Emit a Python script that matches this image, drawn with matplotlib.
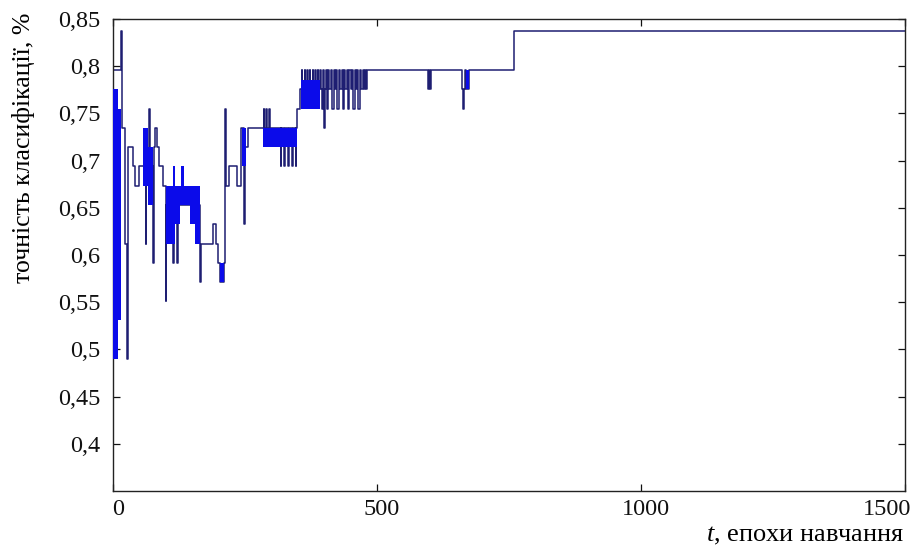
import matplotlib
matplotlib.use("Agg")
import matplotlib.pyplot as plt
from matplotlib.transforms import ScaledTranslation

plt.rcParams["font.family"] = ["Liberation Serif", "DejaVu Serif"]
plt.rcParams["mathtext.fontset"] = "custom"
plt.rcParams["mathtext.it"] = "Liberation Serif:italic"
plt.rcParams["mathtext.rm"] = "Liberation Serif"

# step trace: epoch where a value starts, classification accuracy from there on
epochs = [0, 1, 16, 17, 22, 26, 28, 38, 41, 50,
          62, 63, 69, 70, 76, 77, 80, 83, 88, 94,
          100, 101, 114, 115, 122, 123, 165, 166, 189, 196,
          199, 202, 211, 212, 214, 219, 234, 243, 249, 250,
          256, 286, 287, 290, 291, 296, 297, 318, 319, 324,
          325, 332, 333, 340, 341, 346, 347, 349, 354, 358,
          359, 363, 364, 368, 369, 373, 374, 378, 379, 383,
          384, 388, 389, 392, 394, 396, 398, 400, 401, 403,
          405, 408, 410, 413, 415, 418, 420, 423, 425, 428,
          430, 433, 435, 438, 440, 443, 445, 448, 450, 453,
          455, 458, 460, 463, 465, 468, 470, 473, 475, 478,
          480, 482, 597, 599, 600, 603, 662, 663, 664, 667,
          669, 674, 760, 1500]
accuracy = [0.408, 0.796, 0.837, 0.735, 0.612, 0.490, 0.714, 0.694, 0.673, 0.694,
            0.612, 0.694, 0.755, 0.694, 0.592, 0.714, 0.735, 0.714, 0.694, 0.673,
            0.551, 0.653, 0.592, 0.653, 0.592, 0.653, 0.571, 0.612, 0.633, 0.612,
            0.592, 0.571, 0.592, 0.755, 0.673, 0.694, 0.673, 0.735, 0.633, 0.714,
            0.735, 0.755, 0.735, 0.755, 0.735, 0.755, 0.735, 0.694, 0.735, 0.694,
            0.735, 0.694, 0.735, 0.694, 0.735, 0.694, 0.735, 0.755, 0.776, 0.796,
            0.776, 0.796, 0.776, 0.796, 0.776, 0.796, 0.776, 0.796, 0.776, 0.796,
            0.776, 0.796, 0.776, 0.796, 0.776, 0.755, 0.796, 0.735, 0.776, 0.796,
            0.755, 0.796, 0.776, 0.796, 0.755, 0.796, 0.776, 0.796, 0.755, 0.796,
            0.776, 0.796, 0.755, 0.796, 0.776, 0.796, 0.755, 0.796, 0.776, 0.796,
            0.755, 0.796, 0.776, 0.796, 0.755, 0.796, 0.776, 0.796, 0.776, 0.796,
            0.776, 0.796, 0.776, 0.796, 0.776, 0.796, 0.776, 0.755, 0.776, 0.796,
            0.776, 0.796, 0.837, 0.837]

# zones where accuracy flips every epoch, seen as solid blue blocks
band_start = [1, 9, 57, 66, 101, 113, 117, 127, 129, 146, 155, 202, 244, 284, 301, 357, 669]
band_end = [9, 16, 66, 76, 117, 117, 127, 146, 134, 155, 165, 211, 252, 301, 349, 392, 674]
band_low = [0.490, 0.531, 0.673, 0.653, 0.612, 0.673, 0.633, 0.653, 0.673, 0.633, 0.612,
            0.571, 0.694, 0.714, 0.714, 0.755, 0.776]
band_high = [0.776, 0.755, 0.735, 0.714, 0.673, 0.694, 0.673, 0.673, 0.694, 0.673, 0.673,
             0.592, 0.735, 0.735, 0.735, 0.785, 0.796]

xticks = [0, 500, 1000, 1500]
yticks = [0.4, 0.45, 0.5, 0.55, 0.6, 0.65, 0.7, 0.75, 0.8, 0.85]
ytick_labels = ["0,4", "0,45", "0,5", "0,55", "0,6", "0,65", "0,7", "0,75", "0,8", "0,85"]

line_color = "#1e1e72"
band_color = "#0b0bea"

fig = plt.figure(figsize=(9.14, 5.5), dpi=100)
ax = fig.add_axes([0.1236, 0.1073, 0.8664, 0.8582])

ax.step(epochs, accuracy, where="post", color=line_color, linewidth=1.1, zorder=2)
for s, e, lo, hi in zip(band_start, band_end, band_low, band_high):
    ax.fill_between([s, e], [lo, lo], [hi, hi], color=band_color, linewidth=0, zorder=3)

ax.set_xlim(0, 1500)
ax.set_ylim(0.35, 0.85)
ax.set_xticks(xticks)
ax.set_xticklabels([str(t) for t in xticks])
ax.set_yticks(yticks)
ax.set_yticklabels(ytick_labels)

ax.tick_params(direction="in", top=True, right=True, length=5, width=0.9,
               labelsize=17.5, colors="#111111")
ax.tick_params(axis="x", pad=6)
ax.tick_params(axis="y", pad=9)
for sp in ax.spines.values():
    sp.set_linewidth(1.0)
    sp.set_color("#222222")

# x tick labels sit a little right of their ticks; the last one ends at the frame
shift = ScaledTranslation(5 / 100, 0, fig.dpi_scale_trans)
for lab in ax.get_xticklabels()[:-1]:
    lab.set_transform(lab.get_transform() + shift)
last = ax.get_xticklabels()[-1]
last.set_horizontalalignment("right")
last.set_transform(last.get_transform() + ScaledTranslation(6 / 100, 0, fig.dpi_scale_trans))

ax.set_ylabel("точність класифікації, %", fontsize=18.5)
ax.set_xlabel("$t$, епохи навчання", fontsize=19)
ax.xaxis.set_label_coords(1.0, -0.072)
ax.xaxis.label.set_horizontalalignment("right")
ax.yaxis.set_label_coords(-0.098, 0.727)

fig.savefig("out.png", dpi=100, facecolor="white")
